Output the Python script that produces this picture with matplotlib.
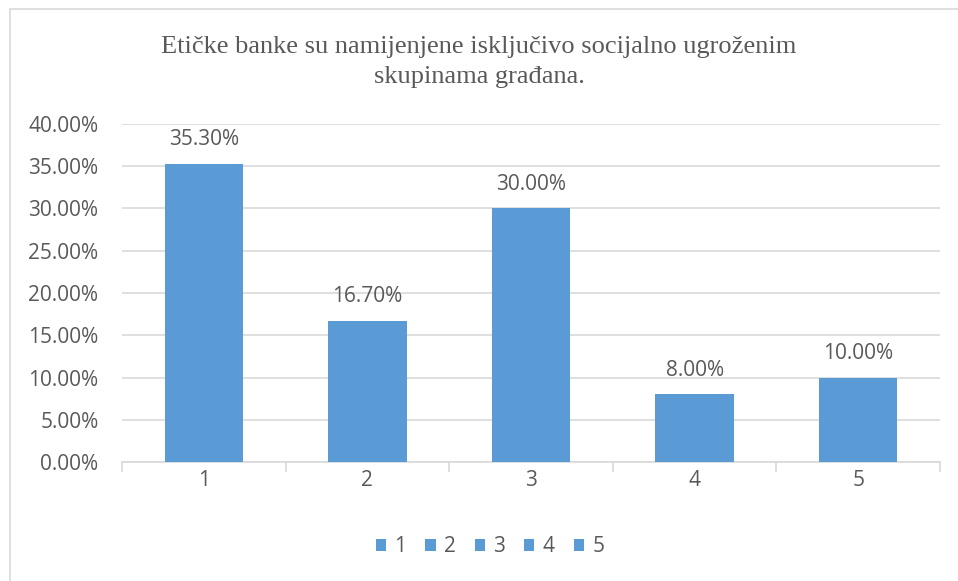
import matplotlib.pyplot as plt
from matplotlib.patches import Rectangle
from matplotlib.ticker import FuncFormatter, MultipleLocator

categories = ['1', '2', '3', '4', '5']
values = [35.30, 16.70, 30.00, 8.00, 10.00]
title = 'Etičke banke su namijenjene isključivo socijalno ugroženim\nskupinama građana.'

bar_color = '#5B9BD5'
text_color = '#595959'
grid_color = '#D9D9D9'

W, H = 958, 581
fig = plt.figure(figsize=(W / 100, H / 100), dpi=100)
ax = fig.add_axes([122 / W, 1 - 462 / H, (940 - 122) / W, (462 - 124) / H])

# outer chart border (only top and left visible in reference)
fig.patches.append(Rectangle((10 / W, -0.05), 1.1, 1 - 9 / H + 0.05, transform=fig.transFigure,
                             fill=False, edgecolor='#D9D9D9', linewidth=1.2))

x = list(range(len(categories)))
bars = ax.bar(x, values, width=0.48, color=bar_color, zorder=3)

ax.set_xlim(-0.5, len(categories) - 0.5)
ax.set_ylim(0, 40)
ax.yaxis.set_major_locator(MultipleLocator(5))
ax.yaxis.set_major_formatter(FuncFormatter(lambda v, p: f'{v:.2f}%'))
ax.grid(axis='y', color=grid_color, linewidth=1.2, zorder=0)

ax.set_xticks(x)
ax.set_xticklabels(categories)
ax.set_xticks([i - 0.5 for i in range(len(categories) + 1)], minor=True)
ax.tick_params(axis='x', which='major', length=0, pad=6, labelsize=15, labelcolor=text_color)
ax.tick_params(axis='x', which='minor', length=7, width=1.2, color=grid_color, direction='out')
ax.tick_params(axis='y', length=0, pad=17, labelsize=15, labelcolor=text_color)
for lab in ax.get_xticklabels() + ax.get_yticklabels():
    lab.set_fontfamily('Open Sans')

for s in ['top', 'right', 'left']:
    ax.spines[s].set_visible(False)
ax.spines['bottom'].set_color(grid_color)
ax.spines['bottom'].set_linewidth(1.2)

for b, v in zip(bars, values):
    ax.annotate(f'{v:.2f}%', (b.get_x() + b.get_width() / 2, v), xytext=(0, 10),
                textcoords='offset points', ha='center', va='bottom',
                fontsize=15, color=text_color, fontfamily='Open Sans')

fig.text(0.5, 1 - 62 / H, title, ha='center', va='center', fontsize=19,
         fontfamily='Liberation Serif', color=text_color, linespacing=1.42)

leg = fig.legend(bars, categories, loc='center', bbox_to_anchor=(490 / W, 1 - 547 / H), ncol=5,
                 frameon=False, handlelength=0.5, handleheight=0.5, handletextpad=0.4,
                 columnspacing=0.9, prop={'family': 'Open Sans', 'size': 15})
for t in leg.get_texts():
    t.set_color(text_color)

fig.savefig('out.png', dpi=100)
